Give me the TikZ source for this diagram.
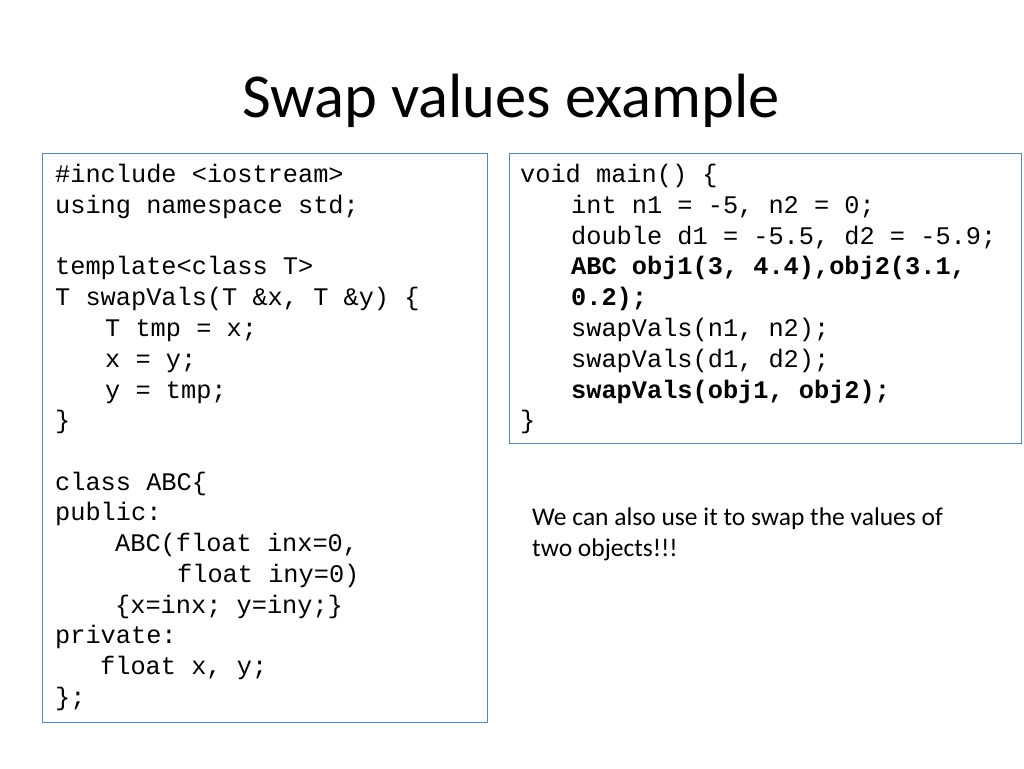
\documentclass[tikz,border=0pt]{standalone}
\usepackage{fontspec}
\setmainfont{Carlito}
\newfontfamily\cf{Liberation Mono}
\definecolor{boxblue}{RGB}{90,130,180}
\begin{document}
\begin{tikzpicture}[x=1pt,y=-1pt,
  code/.style={anchor=base west,inner sep=0pt,font=\cf\fontsize{25.3}{30}\selectfont},
  bcode/.style={code,font=\cf\bfseries\fontsize{25.3}{30}\selectfont},
  panel/.style={draw=boxblue,line width=0.8pt}]
\useasboundingbox (0,0) rectangle (1024,768);
\node[anchor=base,inner sep=0pt,font=\fontsize{62.5}{70}\selectfont] (title) at (511,117) {Swap values example};
\draw[panel] (42,153) rectangle (487,722);
\draw[panel] (509,153) rectangle (1021,443);
\foreach \n/\x/\y/\t in {
 a/55/174/{\#include <iostream>},
 b/55/205/{using namespace std;},
 c/55/266/{template<class T>},
 d/55/297/{T swapVals(T \&x, T \&y) \{},
 e/105/328/{T tmp = x;},
 f/105/359/{x = y;},
 g/105/390/{y = tmp;},
 h/55/420/{\}},
 i/55/482/{class ABC\{},
 j/55/512/{public:},
 k/115/543/{ABC(float inx=0,},
 l/177/574/{float iny=0)},
 m/115/605/{\{x=inx; y=iny;\}},
 n/55/635/{private:},
 o/100/666/{float x, y;},
 p/55/697/{\};},
 q/520/174/{void main() \{},
 r/571/205/{int n1 = -5, n2 = 0;},
 s/571/236/{double d1 = -5.5, d2 = -5.9;},
 v/571/328/{swapVals(n1, n2);},
 w/571/359/{swapVals(d1, d2);},
 z/520/420/{\}}}
 \node[code] (L\n) at (\x,\y+8) {\t};
\node[bcode] (Lt) at (571,274) {ABC obj1(3, 4.4),obj2(3.1,};
\node[bcode] (Lu) at (571,305) {0.2);};
\node[bcode] (Ly) at (571,398) {swapVals(obj1, obj2);};
\node[anchor=base west,inner sep=0pt,font=\fontsize{25.5}{31}\selectfont,align=left] (note) at (532,556)
 {We can also use it to swap the values of\\two objects!!!};
\end{tikzpicture}
\end{document}
